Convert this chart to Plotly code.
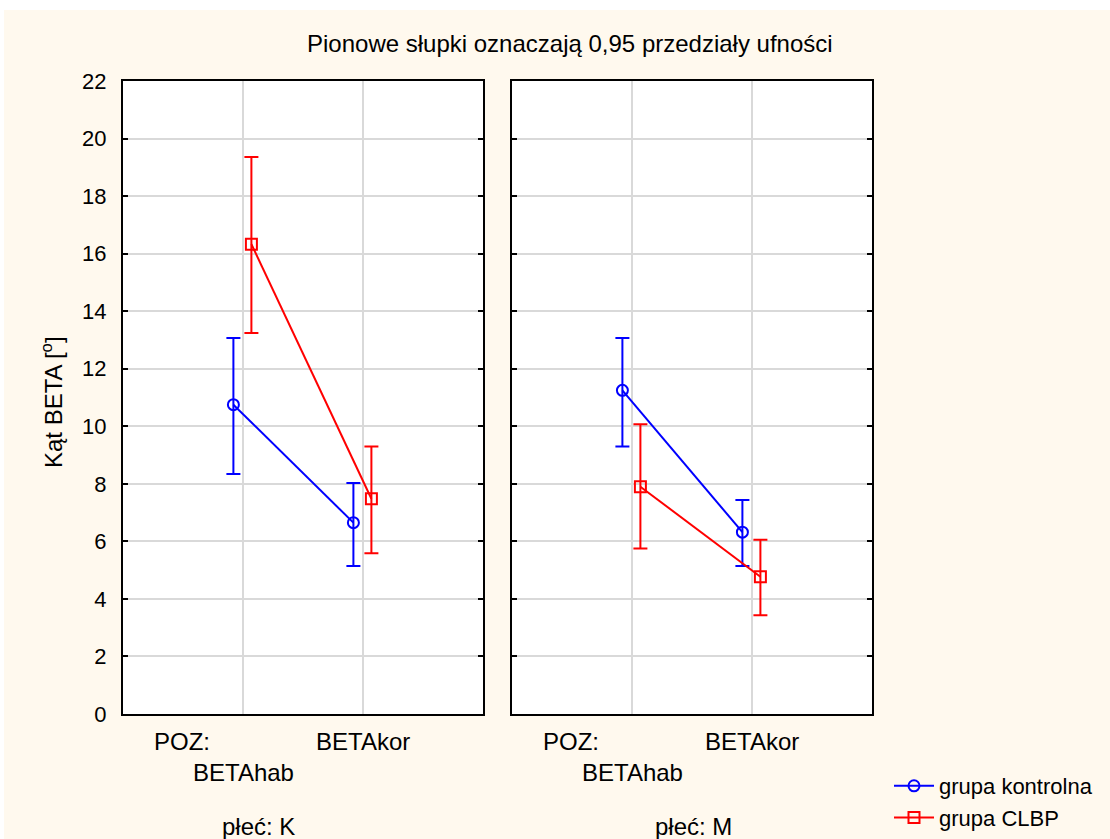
import plotly.graph_objects as go

W, H = 1110, 839

# ---- data ----
categories = ["BETAhab", "BETAkor"]
factor_label = "POZ:"
panels = ["płeć: K", "płeć: M"]
groups = ["grupa kontrolna", "grupa CLBP"]

# panel K
k_ctrl_mean = [10.75, 6.65]
k_ctrl_upper = [13.07, 8.03]
k_ctrl_lower = [8.34, 5.14]
k_clbp_mean = [16.33, 7.48]
k_clbp_upper = [19.36, 9.30]
k_clbp_lower = [13.24, 5.59]

# panel M
m_ctrl_mean = [11.25, 6.32]
m_ctrl_upper = [13.07, 7.44]
m_ctrl_lower = [9.30, 5.14]
m_clbp_mean = [7.90, 4.77]
m_clbp_upper = [10.07, 6.06]
m_clbp_lower = [5.75, 3.43]

y_ticks = list(range(0, 23, 2))

title_text = "Pionowe słupki oznaczają 0,95 przedziały ufności"
y_title = "Kąt BETA [<sup>o</sup>]"

# ---- styling ----
BG = "#FFF9EE"
colors = ["#0000FF", "#FF0000"]
symbols = ["circle-open", "square-open"]
offsets = [-0.08, 0.07]
FONT = "Liberation Sans, Arial, sans-serif"
FS = 24

cat_pos = [1, 2]

def px_x(p):
    return p / W

def px_y(p):
    return 1 - p / H

fig = go.Figure()

panel_data = [
    [(k_ctrl_mean, k_ctrl_upper, k_ctrl_lower), (k_clbp_mean, k_clbp_upper, k_clbp_lower)],
    [(m_ctrl_mean, m_ctrl_upper, m_ctrl_lower), (m_clbp_mean, m_clbp_upper, m_clbp_lower)],
]

for pi, pdata in enumerate(panel_data):
    xa = "x" if pi == 0 else "x2"
    ya = "y" if pi == 0 else "y2"
    for gi, (mean, up, lo) in enumerate(pdata):
        xs = [c + offsets[gi] for c in cat_pos]
        fig.add_trace(go.Scatter(
            x=xs, y=mean, mode="lines+markers",
            name=groups[gi], showlegend=(pi == 0),
            line=dict(color=colors[gi], width=2),
            marker=dict(symbol=symbols[gi], size=11, color=colors[gi],
                        line=dict(color=colors[gi], width=2)),
            error_y=dict(type="data", symmetric=False,
                         array=[u - m for u, m in zip(up, mean)],
                         arrayminus=[m - l for m, l in zip(mean, lo)],
                         color=colors[gi], thickness=2, width=7),
            xaxis=xa, yaxis=ya,
        ))

ydom = [px_y(714), px_y(81)]
xdom1 = [px_x(123), px_x(483)]
xdom2 = [px_x(512), px_x(872)]

axis_common_x = dict(range=[0, 3], tickvals=cat_pos, showticklabels=False,
                     showgrid=True, gridcolor="#D9D9D9", gridwidth=2,
                     zeroline=False, showline=True, linecolor="black", linewidth=2,
                     mirror=True, ticks="", fixedrange=True, automargin=False)
axis_common_y = dict(range=[0, 22], tickvals=y_ticks,
                     showgrid=True, gridcolor="#D9D9D9", gridwidth=2,
                     zeroline=False, showline=True, linecolor="black", linewidth=2,
                     mirror="ticks", ticks="inside", ticklen=5, tickwidth=2,
                     tickcolor="black", domain=ydom, automargin=False)

fig.update_layout(
    width=W, height=H,
    margin=dict(l=0, r=0, t=0, b=0, pad=0),
    paper_bgcolor=BG, plot_bgcolor="white",
    font=dict(family=FONT, size=FS, color="black"),
    xaxis=dict(domain=xdom1, anchor="y", **axis_common_x),
    xaxis2=dict(domain=xdom2, anchor="y2", **axis_common_x),
    yaxis=dict(anchor="x", showticklabels=True,
               tickfont=dict(size=22, family=FONT), ticklabelstandoff=10,
               **axis_common_y),
    yaxis2=dict(anchor="x2", showticklabels=False, **axis_common_y),
    legend=dict(x=px_x(889), y=0.0, xanchor="left", yanchor="bottom",
                bgcolor="rgba(0,0,0,0)", font=dict(size=22, family=FONT),
                itemwidth=40, tracegroupgap=0, borderwidth=0),
    showlegend=True,
)

annotations = []
annotations.append(dict(text=title_text, x=px_x(570), y=px_y(44), xref="paper", yref="paper",
                        showarrow=False, font=dict(size=FS), xanchor="center", yanchor="middle"))
annotations.append(dict(text=y_title, x=px_x(52), y=px_y(402), xref="paper", yref="paper",
                        showarrow=False, textangle=-90, font=dict(size=FS),
                        xanchor="center", yanchor="middle"))
panel_label_pos = [1.13, 1.51]
for pi, xa in enumerate(["x", "x2"]):
    annotations.append(dict(text=factor_label, x=0.49, y=px_y(741), xref=xa, yref="paper",
                            showarrow=False, xanchor="center", yanchor="middle"))
    annotations.append(dict(text=categories[0], x=cat_pos[0], y=px_y(772), xref=xa, yref="paper",
                            showarrow=False, xanchor="center", yanchor="middle"))
    annotations.append(dict(text=categories[1], x=cat_pos[1], y=px_y(741), xref=xa, yref="paper",
                            showarrow=False, xanchor="center", yanchor="middle"))
    annotations.append(dict(text=panels[pi], x=panel_label_pos[pi], y=px_y(826), xref=xa, yref="paper",
                            showarrow=False, xanchor="center", yanchor="middle"))
fig.update_layout(annotations=annotations)

# thin white strips at the top/left edge of the page
fig.add_shape(type="rect", xref="paper", yref="paper", x0=0, x1=1, y0=px_y(10), y1=1,
              fillcolor="white", line=dict(width=0), layer="below")
fig.add_shape(type="rect", xref="paper", yref="paper", x0=0, x1=px_x(4), y0=0, y1=1,
              fillcolor="white", line=dict(width=0), layer="below")

fig.write_html("out.html")
